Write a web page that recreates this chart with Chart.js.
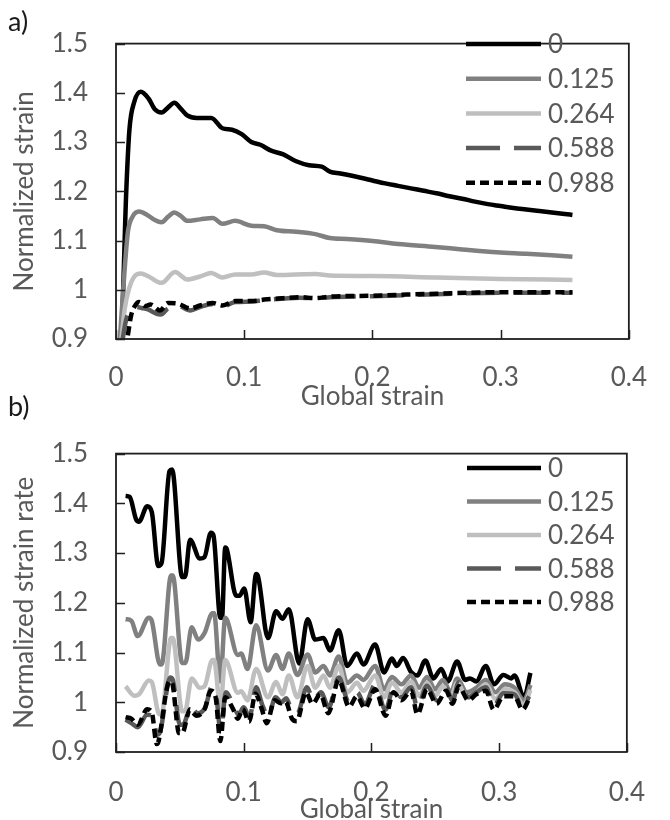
<!DOCTYPE html>
<html>
<head>
<meta charset="utf-8">
<script src="https://cdn.jsdelivr.net/npm/chart.js@4.4.1/dist/chart.umd.min.js"></script>
<style>
  html, body { margin: 0; padding: 0; background: #fff; }
  #page { position: relative; width: 670px; height: 820px; font-family: Lato, sans-serif; }
  canvas { position: absolute; left: 0; }
  .tag { position: absolute; left: 8px; font-size: 27px; line-height: 1; color: #1a1a1a; }
</style>
</head>
<body>
<div id="page">
  <canvas id="chartA" width="670" height="410" style="top:0"></canvas>
  <canvas id="chartB" width="670" height="410" style="top:410px"></canvas>
  <div class="tag" style="top:7px">a)</div>
  <div class="tag" style="top:392px">b)</div>
</div>
<script>
// legend entries, shared by both panels
const seriesNames = ['0', '0.125', '0.264', '0.588', '0.988'];
const lineColors = ['#000000', '#808080', '#bfbfbf', '#595959', '#000000'];
const lineDashes = [[], [], [], [34, 14], [9, 5]];

const xTickLabels = ['0', '0.1', '0.2', '0.3', '0.4'];
const yTickLabels = ['0.9', '1', '1.1', '1.2', '1.3', '1.4', '1.5'];

// a) normalized strain vs global strain, [global strain, value]
const strain0 = [[0, 0.86], [0.0043, 0.917], [0.008, 1.2], [0.0105, 1.326], [0.0143, 1.382], [0.0193, 1.402],
  [0.0255, 1.388], [0.0305, 1.366], [0.0355, 1.36], [0.0405, 1.37], [0.0455, 1.38], [0.0505, 1.368],
  [0.0555, 1.354], [0.063, 1.349], [0.0743, 1.349], [0.083, 1.328], [0.0905, 1.325], [0.098, 1.316],
  [0.1055, 1.30], [0.113, 1.294], [0.1205, 1.283], [0.1305, 1.275], [0.1405, 1.261], [0.1505, 1.253],
  [0.1605, 1.25], [0.1668, 1.24], [0.175, 1.236], [0.19, 1.228], [0.2, 1.222], [0.21, 1.216], [0.22, 1.211],
  [0.23, 1.206], [0.24, 1.201], [0.25, 1.196], [0.26, 1.19], [0.27, 1.185], [0.28, 1.179], [0.29, 1.174],
  [0.30, 1.170], [0.31, 1.166], [0.32, 1.163], [0.33, 1.160], [0.34, 1.157], [0.35, 1.154], [0.356, 1.152]];
const strain125 = [[0.0025, 0.88], [0.0068, 1.043], [0.0093, 1.118], [0.013, 1.149], [0.018, 1.159],
  [0.0243, 1.152], [0.03, 1.142], [0.0355, 1.137], [0.0405, 1.148], [0.0455, 1.157], [0.0505, 1.15],
  [0.0555, 1.14], [0.0655, 1.143], [0.0755, 1.146], [0.083, 1.134], [0.093, 1.14], [0.1055, 1.13],
  [0.1155, 1.129], [0.1255, 1.121], [0.1405, 1.118], [0.1555, 1.113], [0.1668, 1.105], [0.18, 1.103],
  [0.2, 1.099], [0.22, 1.093], [0.249, 1.087], [0.27, 1.082], [0.297, 1.076], [0.32, 1.073], [0.34, 1.07],
  [0.356, 1.067]];
const strain264 = [[0.0035, 0.88], [0.0068, 0.961], [0.0105, 1.005], [0.0143, 1.027], [0.0193, 1.033],
  [0.0255, 1.027], [0.0355, 1.014], [0.046, 1.036], [0.0555, 1.021], [0.0655, 1.027], [0.0743, 1.034],
  [0.083, 1.025], [0.093, 1.031], [0.1055, 1.031], [0.1155, 1.035], [0.1255, 1.03], [0.1405, 1.031],
  [0.1555, 1.032], [0.1668, 1.029], [0.2, 1.028], [0.25, 1.025], [0.3, 1.022], [0.356, 1.02]];
const strain588 = [[0.004, 0.88], [0.008, 0.94], [0.0118, 0.96], [0.016, 0.965], [0.02, 0.963], [0.025, 0.96],
  [0.0318, 0.951], [0.035, 0.95], [0.0405, 0.962], [0.048, 0.968], [0.058, 0.958], [0.0655, 0.965],
  [0.0755, 0.971], [0.083, 0.966], [0.093, 0.975], [0.1055, 0.976], [0.1155, 0.979], [0.1305, 0.982],
  [0.143, 0.984], [0.1555, 0.983], [0.1668, 0.985], [0.2, 0.987], [0.25, 0.991], [0.3, 0.994], [0.356, 0.994]];
const strain988 = [[0.007, 0.88], [0.009, 0.904], [0.0118, 0.948], [0.0155, 0.970], [0.018, 0.975],
  [0.023, 0.967], [0.0268, 0.970], [0.0343, 0.958], [0.0405, 0.973], [0.048, 0.972], [0.058, 0.962],
  [0.0655, 0.968], [0.0755, 0.973], [0.083, 0.968], [0.093, 0.977], [0.1055, 0.977], [0.1155, 0.98],
  [0.1305, 0.983], [0.143, 0.985], [0.1555, 0.983], [0.1668, 0.986], [0.2, 0.988], [0.25, 0.992],
  [0.3, 0.995], [0.356, 0.995]];

// b) normalized strain rate vs global strain
const rate0 = [[0.0075, 1.415], [0.0107, 1.413], [0.0157, 1.368], [0.018, 1.363], [0.0244, 1.394], [0.028, 1.383],
  [0.0331, 1.274], [0.0357, 1.28], [0.0419, 1.465], [0.0439, 1.468], [0.0518, 1.252], [0.054, 1.252],
  [0.058, 1.327], [0.0656, 1.289], [0.0693, 1.292], [0.0743, 1.341], [0.0763, 1.336], [0.0817, 1.17],
  [0.083, 1.17], [0.0855, 1.311], [0.0867, 1.308], [0.0942, 1.214], [0.0967, 1.214], [0.1004, 1.229],
  [0.1054, 1.161], [0.1097, 1.258], [0.111, 1.255], [0.119, 1.129], [0.1254, 1.183], [0.1303, 1.168],
  [0.1353, 1.187], [0.1435, 1.078], [0.150, 1.167], [0.156, 1.126], [0.1625, 1.129], [0.1675, 1.104],
  [0.1744, 1.145], [0.181, 1.073], [0.1887, 1.098], [0.1937, 1.076], [0.2029, 1.116], [0.2099, 1.06],
  [0.216, 1.088], [0.2198, 1.073], [0.2248, 1.089], [0.231, 1.061], [0.236, 1.054], [0.2422, 1.084],
  [0.2485, 1.048], [0.2547, 1.067], [0.2597, 1.042], [0.2671, 1.082], [0.2734, 1.045], [0.2771, 1.048],
  [0.2821, 1.042], [0.2896, 1.073], [0.2958, 1.036], [0.3033, 1.055], [0.3095, 1.048], [0.312, 1.054],
  [0.3195, 1.01], [0.3245, 1.059]];
const rate125 = [[0.0075, 1.167], [0.012, 1.164], [0.017, 1.133], [0.0257, 1.170], [0.028, 1.164], [0.0344, 1.076],
  [0.0357, 1.076], [0.0431, 1.255], [0.0444, 1.255], [0.0518, 1.079], [0.0543, 1.079], [0.0593, 1.151],
  [0.0643, 1.126], [0.0693, 1.139], [0.0755, 1.179], [0.0768, 1.179], [0.0817, 1.042], [0.0855, 1.170],
  [0.0954, 1.095], [0.098, 1.098], [0.103, 1.067], [0.1097, 1.155], [0.119, 1.064], [0.1254, 1.095],
  [0.1303, 1.067], [0.1353, 1.098], [0.142, 1.055], [0.150, 1.096], [0.156, 1.06], [0.1625, 1.073],
  [0.1675, 1.054], [0.1744, 1.092], [0.181, 1.039], [0.1887, 1.054], [0.1937, 1.045], [0.2029, 1.073],
  [0.2099, 1.026], [0.216, 1.051], [0.2235, 1.036], [0.231, 1.054], [0.2373, 1.029], [0.2435, 1.051],
  [0.2498, 1.026], [0.256, 1.045], [0.2622, 1.02], [0.2671, 1.048], [0.2747, 1.02], [0.2821, 1.029],
  [0.2896, 1.045], [0.297, 1.02], [0.3045, 1.036], [0.312, 1.029], [0.3195, 1.004], [0.3245, 1.035]];
const rate264 = [[0.0075, 1.032], [0.0145, 1.013], [0.018, 1.016], [0.0257, 1.044], [0.028, 1.041], [0.0339, 0.976],
  [0.0357, 0.976], [0.0431, 1.129], [0.0444, 1.129], [0.0518, 0.982], [0.054, 0.982], [0.0593, 1.048],
  [0.0656, 1.029], [0.0693, 1.032], [0.0755, 1.085], [0.0768, 1.085], [0.0817, 0.99], [0.0855, 1.085],
  [0.0954, 1.019], [0.098, 1.022], [0.103, 1.004], [0.1097, 1.067], [0.119, 1.01], [0.1254, 1.041],
  [0.1303, 1.016], [0.1353, 1.054], [0.142, 1.01], [0.150, 1.073], [0.156, 1.029], [0.1625, 1.054],
  [0.1675, 1.029], [0.1744, 1.073], [0.181, 1.02], [0.1887, 1.039], [0.1937, 1.023], [0.2029, 1.054],
  [0.2099, 1.01], [0.216, 1.039], [0.2235, 1.02], [0.231, 1.042], [0.2373, 1.013], [0.2435, 1.039],
  [0.2498, 1.013], [0.256, 1.032], [0.2622, 1.01], [0.2671, 1.039], [0.2747, 1.01], [0.2821, 1.02],
  [0.2896, 1.036], [0.297, 1.007], [0.3045, 1.026], [0.312, 1.02], [0.3195, 0.995], [0.3245, 1.025]];
const rate588 = [[0.0075, 0.965], [0.012, 0.958], [0.017, 0.95], [0.0244, 0.975], [0.028, 0.972], [0.0325, 0.935],
  [0.0345, 0.94], [0.0425, 1.05], [0.0445, 1.045], [0.05, 0.955], [0.0525, 0.955], [0.0585, 0.99],
  [0.064, 0.978], [0.07, 0.99], [0.0748, 1.03], [0.0785, 1.012], [0.082, 0.94], [0.086, 1.02],
  [0.0925, 0.99], [0.096, 0.975], [0.1, 0.99], [0.1045, 0.97], [0.1097, 1.03], [0.1145, 0.995],
  [0.119, 0.972], [0.125, 1.01], [0.1295, 1.0], [0.1333, 1.008], [0.138, 0.98], [0.142, 0.978],
  [0.1495, 1.03], [0.1545, 1.004], [0.1605, 1.02], [0.1665, 0.99], [0.1744, 1.05], [0.1824, 1.0],
  [0.1887, 1.02], [0.1949, 0.996], [0.2029, 1.035], [0.211, 0.985], [0.2173, 1.028], [0.2235, 1.01],
  [0.231, 1.03], [0.236, 0.99], [0.2435, 1.033], [0.251, 1.004], [0.2585, 1.028], [0.2635, 1.003],
  [0.2684, 1.04], [0.2759, 1.01], [0.2821, 1.02], [0.2896, 1.03], [0.2958, 0.993], [0.3033, 1.018],
  [0.312, 1.016], [0.3183, 0.99], [0.3235, 1.012]];
const rate988 = [[0.0075, 0.97], [0.012, 0.967], [0.017, 0.955], [0.0244, 0.986], [0.028, 0.98], [0.0319, 0.916],
  [0.033, 0.919], [0.0419, 1.042], [0.0439, 1.039], [0.0494, 0.938], [0.0518, 0.938], [0.058, 0.986],
  [0.063, 0.973], [0.0693, 0.986], [0.0743, 1.023], [0.078, 1.01], [0.0817, 0.922], [0.0855, 1.01],
  [0.0917, 0.986], [0.0954, 0.967], [0.0992, 0.986], [0.1042, 0.961], [0.1092, 1.017], [0.1142, 0.986],
  [0.118, 0.958], [0.1242, 1.004], [0.1291, 0.998], [0.1328, 1.001], [0.1378, 0.967], [0.1415, 0.962],
  [0.1488, 1.02], [0.1538, 0.997], [0.16, 1.016], [0.1662, 0.978], [0.1744, 1.045], [0.1824, 0.991],
  [0.1887, 1.012], [0.1949, 0.988], [0.2029, 1.026], [0.2111, 0.973], [0.2173, 1.02], [0.2235, 1.004],
  [0.231, 1.023], [0.236, 0.976], [0.2435, 1.026], [0.251, 0.997], [0.2585, 1.023], [0.2635, 0.997],
  [0.2684, 1.032], [0.2759, 1.004], [0.2821, 1.016], [0.2896, 1.023], [0.2958, 0.985], [0.3033, 1.012],
  [0.312, 1.012], [0.3183, 0.985], [0.3235, 1.007]];

Chart.defaults.font.family = 'Lato, sans-serif';
const grey = '#595959';
const bigFont = { size: 26 };

// box round the plot, inner tick marks and the line legend
const framePlugin = {
  id: 'frame',
  afterDatasetsDraw(chart, args, opts) {
    const { ctx, chartArea: a, scales: { x, y } } = chart;
    ctx.save();
    ctx.strokeStyle = '#1f1f1f';
    ctx.lineWidth = 1.8;
    ctx.strokeRect(a.left, a.top, a.right - a.left, a.bottom - a.top);
    ctx.lineWidth = 1.5;
    ctx.beginPath();
    y.ticks.forEach(t => {
      const py = Math.round(y.getPixelForValue(t.value)) + 0.5;
      ctx.moveTo(a.left, py); ctx.lineTo(a.left + 9, py);
    });
    x.ticks.forEach(t => {
      const px = Math.round(x.getPixelForValue(t.value)) + 0.5;
      ctx.moveTo(px, a.bottom); ctx.lineTo(px, a.bottom - 9);
    });
    ctx.stroke();

    ctx.font = '26px Lato, sans-serif';
    ctx.textBaseline = 'middle';
    ctx.fillStyle = grey;
    chart.data.datasets.forEach((ds, i) => {
      const ly = opts.y0 + i * opts.dy;
      ctx.strokeStyle = ds.borderColor;
      ctx.lineWidth = ds.borderWidth;
      ctx.setLineDash(ds.borderDash);
      ctx.beginPath();
      ctx.moveTo(opts.x0, ly); ctx.lineTo(opts.x1, ly);
      ctx.stroke();
      ctx.setLineDash([]);
      ctx.fillText(ds.label, opts.x1 + 7, ly + 1);
    });
    ctx.restore();
  }
};

function makeChart(id, series, yTitle, box) {
  const datasets = series.map((pts, i) => ({
    label: seriesNames[i],
    data: pts.map(p => ({ x: p[0], y: p[1] })),
    borderColor: lineColors[i],
    borderDash: lineDashes[i],
    borderWidth: 4.5,
    pointRadius: 0,
    fill: false,
    cubicInterpolationMode: 'monotone',
    clip: 0,
    order: series.length - i
  }));
  return new Chart(document.getElementById(id), {
    type: 'line',
    data: { datasets },
    plugins: [framePlugin],
    options: {
      responsive: false,
      animation: false,
      events: [],
      layout: { padding: { left: 0, top: box.top, right: box.right, bottom: 0 } },
      plugins: {
        legend: { display: false },
        tooltip: { enabled: false },
        frame: box.legend
      },
      scales: {
        x: {
          type: 'linear', min: 0, max: 0.4,
          grid: { display: false, drawTicks: false },
          border: { display: false },
          ticks: {
            stepSize: 0.1, autoSkip: false, maxRotation: 0,
            padding: box.xPad, color: grey, font: bigFont,
            callback: (v, i) => xTickLabels[i]
          },
          title: { display: true, text: 'Global strain', color: grey, font: bigFont, padding: { top: 0, bottom: box.titlePad } },
          afterFit: s => { s.height = box.xHeight; }
        },
        y: {
          min: 0.9, max: 1.5,
          grid: { display: false, drawTicks: false },
          border: { display: false },
          ticks: {
            stepSize: 0.1, autoSkip: false,
            padding: 28, color: grey, font: bigFont,
            callback: (v, i) => yTickLabels[i]
          },
          title: { display: true, text: yTitle, color: grey, font: bigFont, padding: { top: 9, bottom: 0 } },
          afterFit: s => { s.width = 116; }
        }
      }
    }
  });
}

makeChart('chartA', [strain0, strain125, strain264, strain588, strain988], 'Normalized strain', {
  top: 21, right: 21, xHeight: 71, xPad: 23, titlePad: -2.5,
  legend: { x0: 466, x1: 541, y0: 44, dy: 34.7 }
});
makeChart('chartB', [rate0, rate125, rate264, rate588, rate988], 'Normalized strain rate', {
  top: 23, right: 19, xHeight: 68, xPad: 25, titlePad: -5,
  legend: { x0: 467, x1: 541, y0: 58, dy: 33.5 }
});
</script>
</body>
</html>
